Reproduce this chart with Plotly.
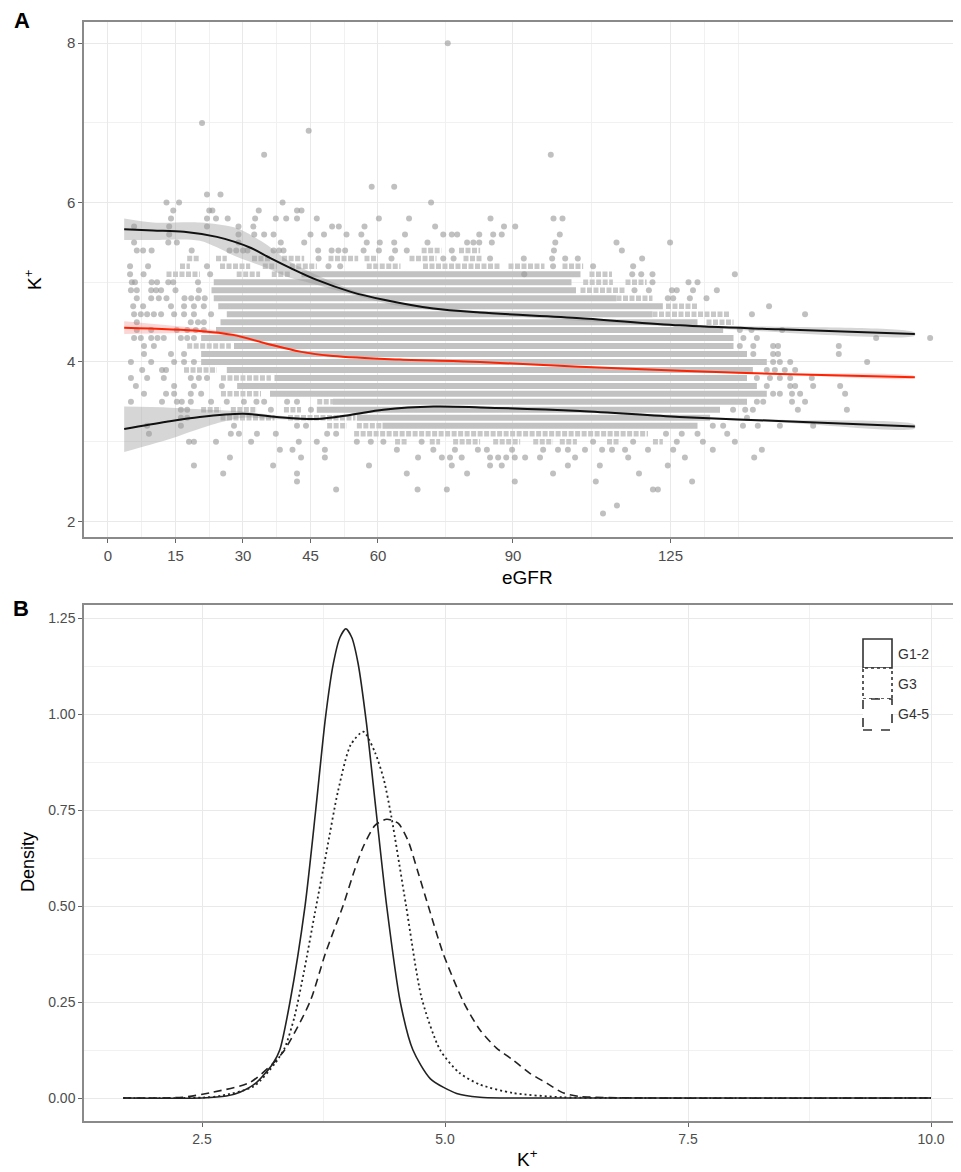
import plotly.graph_objects as go

# ---------------- Panel A data (eGFR vs K+) ----------------
K_rows = [8.0, 7.0, 6.9, 6.6, 6.2, 6.1, 6.0, 5.9, 5.8, 5.7, 5.6, 5.5, 5.4, 5.3, 5.2, 5.1,
          5.0, 4.9, 4.8, 4.7, 4.6, 4.5, 4.4, 4.3, 4.2, 4.1, 4.0, 3.9, 3.8, 3.7, 3.6, 3.5,
          3.4, 3.3, 3.2, 3.1, 3.0, 2.9, 2.8, 2.7, 2.6, 2.5, 2.4, 2.2, 2.1]

dense_lo = [None] * 15 + [43, 23.5, 23, 23.5, 24.5, 26.4, 25, 24, 20.7, 28, 20.7, 20.7, 26.4,
                          37, 28.7, 36, 50, 46.4, 55.3, 61] + [None] * 10
dense_hi = [None] * 15 + [105, 103, 104, 113, 123.3, 121, 131, 136.7, 139, 139, 142, 146.4,
                          143.3, 142, 144.2, 146.4, 142, 136, 133.8, 131] + [None] * 10

semi_spans = [
    [], [], [], [], [], [], [], [], [], [], [], [],
    [[69.7, 74.1], [78, 82.7]],                                                   # 5.4
    [[17.6, 20.2], [24, 26.4], [32, 36], [38.7, 43.6], [49, 55.6], [57, 60], [67, 73], [79, 83]],  # 5.3
    [[16, 18.2], [24.9, 31.6], [34.4, 37.5], [40.4, 46.4], [57.5, 65], [70, 87], [89, 97], [101, 105.6]],  # 5.2
    [[13, 20.4], [28.6, 33.8], [36.4, 40.4], [107, 112]],                          # 5.1
    [[105.6, 112.2], [115, 119.7]],                                                # 5.0
    [[105, 115]],                                                                  # 4.9
    [[113, 121]],                                                                  # 4.8
    [[124, 131]],                                                                  # 4.7
    [[121, 138]],                                                                  # 4.6
    [[133, 139]],                                                                  # 4.5
    [], [],                                                                        # 4.4, 4.3
    [[17.6, 27.3]],                                                                # 4.2
    [], [],                                                                        # 4.1, 4.0
    [[16.9, 24.2]],                                                                # 3.9
    [[25.1, 36.2]],                                                                # 3.8
    [],                                                                            # 3.7
    [[25.1, 34]],                                                                  # 3.6
    [[46.5, 50]],                                                                  # 3.5
    [[20.7, 25.1], [27.3, 33.1], [39.1, 42.9]],                                    # 3.4
    [[25, 37], [40, 55]],                                                          # 3.3
    [[48.7, 53.1], [55.3, 61]],                                                    # 3.2
    [[54.7, 120]],                                                                 # 3.1
    [[63.8, 66.4], [71.5, 73.8], [76.7, 82.7], [85.6, 91.6], [94.5, 98.9], [100.4, 104.2],
     [110.9, 113.8], [121.1, 123.3]],                                              # 3.0
    [], [], [], [], [], [], [], [],
]

row_points = [
    [75.5],                                                                        # 8.0
    [20.9],                                                                        # 7.0
    [44.6],                                                                        # 6.9
    [34.7, 98.4],                                                                  # 6.6
    [58.6, 63.6],                                                                  # 6.2
    [22, 25],                                                                      # 6.1
    [13, 15.8, 38.8, 71.8],                                                        # 6.0
    [14.5, 22.5, 23.2, 33.5, 42, 43],                                              # 5.9
    [14, 22, 24, 26.6, 32.7, 37.3, 39.6, 42, 46.4, 60.2, 66.9, 85, 99, 101],       # 5.8
    [5.8, 13.6, 22, 29, 32.3, 49.8, 51.3, 57, 72.7, 88, 90.5],                     # 5.7
    [13.6, 29, 32.5, 34.7, 36.8, 45, 48, 53, 56.3, 66, 74.5, 76.4, 77.6, 82.5, 85.6, 87.5, 100.4],  # 5.6
    [5.8, 13.4, 15.3, 29, 38.4, 43.6, 57.5, 60.4, 63.6, 71, 79.8, 81.2, 82.5, 85.3, 99.4, 113, 124.9],  # 5.5
    [6.4, 7.8, 9.7, 18.6, 27, 28.5, 30, 31, 36.8, 38, 39, 46.7, 49.7, 51.2, 52.7, 56.8, 60.2,
     63.8, 66.4, 76.4, 99.1, 114.2],                                               # 5.4
    [46.8, 63, 74.5, 76.8, 84.9, 92.4, 98.7, 101.6, 104.4, 118.7],                 # 5.3
    [4.9, 8.9, 22, 49, 51.6, 98.9, 107.8, 116.7],                                  # 5.2
    [4.9, 7.9, 22.7, 92.5, 116.5, 118.5, 121, 139.3],                              # 5.1
    [5.3, 6, 9.7, 10.9, 13.4, 14.5, 20, 121, 129, 131],                            # 5.0
    [5.1, 6.4, 9.6, 10.7, 11.8, 15, 20.2, 117, 120.2, 125.3, 126.4, 130, 135.3],   # 4.9
    [6.4, 9.6, 11.3, 13, 17, 18.5, 20, 21.5, 124.4, 125.6, 129.3, 133],            # 4.8
    [5.6, 7.8, 14, 16.9, 19.1, 21.3, 146.9],                                       # 4.7
    [5.8, 7.3, 8.7, 10.2, 11.8, 14.7, 16.9, 19.1, 22.9, 143.1, 154.9],             # 4.6
    [6.4, 18.4, 20, 21.3],                                                         # 4.5
    [6.4, 9.6, 15.3, 17.6, 19.5, 21.3, 140.4, 143, 149.8],                         # 4.4
    [5.8, 7.3, 9.6, 11, 12.4, 16.2, 17.6, 19.1, 141.2, 144.2, 170.7, 182.7],       # 4.3
    [8, 10.2, 140.4, 143.4, 147.8, 148.9, 162.4],                                  # 4.2
    [8, 14, 16.9, 143.4, 147.8, 148.9, 162.4],                                     # 4.1
    [5.1, 9.6, 14.7, 16.9, 19.1, 147.8, 149.3, 151.6, 168.7],                      # 4.0
    [7.6, 12, 12.9, 146.4, 148.2, 150.4, 152.7],                                   # 3.9
    [5.1, 8.7, 12.4, 18.4, 20.2, 22, 144.2, 147.1, 149.3, 151.6, 156.4],           # 3.8
    [6.2, 14.7, 19.1, 25.3, 146.4, 151.6, 152.7, 156.7, 162.7],                    # 3.7
    [8, 12.9, 14.7, 18.4, 20.7, 147.8, 149.3, 152, 153.8, 163.8],                  # 3.6
    [5.1, 12, 15.3, 16.4, 18.4, 22.9, 26.4, 30.2, 33, 34.7, 39.8, 42, 144.2, 145.6, 152, 154.9],  # 3.5
    [16.2, 17.6, 36.2, 45.1, 138.9, 141.6, 143.3, 153.3, 164.2],                   # 3.4
    [16.2, 17.6, 142],                                                             # 3.3
    [8.7, 16.2, 28, 42, 44, 134.4, 136.7, 141.1, 144.4, 149.3, 156.7],             # 3.2
    [9.1, 27.3, 29.1, 33.1, 37.3, 48.7, 50.7, 124, 127.5, 131, 137.6],             # 3.1
    [18, 19.1, 24, 31.8, 42.4, 46.4, 55.3, 58.4, 61.2, 69.7, 107.8, 116.7, 126.4, 132.2, 139.3],  # 3.0
    [38.2, 41, 48.2, 64.2, 72.3, 77.1, 82.2, 84.2, 89.8, 96.7, 100, 102.2, 106, 109.8, 112,
     114.9, 120, 125.6, 134.4, 145.3],                                             # 2.9
    [27.1, 42.9, 48.2, 68.9, 74.2, 76, 78.6, 84.9, 86.7, 88.5, 90.4, 92.7, 96, 103.8, 115.6,
     128.2, 143.6],                                                                # 2.8
    [19.1, 36.7, 58, 76.4, 84.9, 87.5, 102.2, 109.3, 124.4],                       # 2.7
    [25.6, 42, 66.4, 79.8, 98.9, 118],                                             # 2.6
    [42, 90.4, 108.4, 129.8],                                                      # 2.5
    [50.7, 68.8, 75.3, 121.1, 122.2],                                              # 2.4
    [113.1],                                                                       # 2.2
    [110],                                                                         # 2.1
]

# smoothed fits
up_x = [3.6, 10, 16.9, 24.2, 28, 31.8, 36.2, 40.7, 46.4, 54, 61.3, 72.3, 82.7, 105, 127, 149, 179.3]
up_y = [5.665, 5.65, 5.635, 5.57, 5.51, 5.43, 5.30, 5.175, 5.03, 4.88, 4.78, 4.67, 4.62, 4.55, 4.46, 4.41, 4.35]
up_ci_x = [3.6, 10, 20.4, 28.6, 35.3, 39.8, 46.4, 54, 65, 90, 130, 179.3]
up_ci_hi = [5.80, 5.75, 5.75, 5.68, 5.47, 5.28, 5.09, 4.91, 4.74, 4.605, 4.465, 4.37]
up_ci_lo = [5.53, 5.53, 5.52, 5.32, 5.18, 5.07, 4.97, 4.85, 4.70, 4.575, 4.435, 4.33]

mid_x = [3.6, 20.4, 27.8, 35.3, 42.7, 50, 64.9, 82.7, 104.9, 127.1, 149.3, 179.3]
mid_y = [4.43, 4.39, 4.34, 4.23, 4.13, 4.075, 4.03, 4.0, 3.94, 3.89, 3.85, 3.81]
mid_ci_hi = [4.51, 4.42, 4.36, 4.245, 4.14, 4.085, 4.038, 4.007, 3.947, 3.897, 3.858, 3.822]
mid_ci_lo = [4.35, 4.36, 4.32, 4.215, 4.12, 4.065, 4.022, 3.993, 3.933, 3.883, 3.842, 3.798]

low_x = [3.6, 13, 20.4, 30, 37.5, 46.4, 53.8, 61.2, 72.3, 82.7, 104.9, 127, 149, 179.3]
low_y = [3.16, 3.25, 3.31, 3.35, 3.31, 3.285, 3.335, 3.40, 3.44, 3.43, 3.385, 3.31, 3.26, 3.19]
low_ci_x = [3.6, 13, 22.9, 30, 37.5, 46.4, 53.8, 61.2, 72.3, 82.7, 104.9, 127, 149, 179.3]
low_ci_hi = [3.44, 3.43, 3.40, 3.38, 3.33, 3.30, 3.35, 3.412, 3.452, 3.442, 3.397, 3.323, 3.275, 3.215]
low_ci_lo = [2.87, 3.02, 3.21, 3.30, 3.28, 3.27, 3.32, 3.388, 3.428, 3.418, 3.373, 3.297, 3.245, 3.165]

egfr_ticks = [0, 15, 30, 45, 60, 90, 125]

# ---------------- Panel B data (density of K+) ----------------
groups = ["G1-2", "G3", "G4-5"]
g12_k = [1.69, 2.5, 2.75, 2.89, 3.06, 3.23, 3.30, 3.405, 3.56, 3.67, 3.77, 3.85, 3.92, 3.98, 4.04,
         4.105, 4.19, 4.29, 4.40, 4.54, 4.67, 4.85, 5.12, 5.36, 5.6, 10.0]
g12_d = [0, 0, 0.005, 0.015, 0.04, 0.09, 0.125, 0.25, 0.5, 0.75, 0.99, 1.13, 1.20, 1.222, 1.20,
         1.133, 0.98, 0.75, 0.5, 0.25, 0.125, 0.05, 0.012, 0.002, 0, 0]
g3_k = [1.69, 2.5, 2.7, 3.03, 3.25, 3.35, 3.45, 3.55, 3.66, 3.78, 3.90, 4.03, 4.16, 4.28, 4.37,
        4.45, 4.60, 4.76, 4.95, 5.15, 5.36, 5.70, 6.21, 7.0, 10.0]
g3_d = [0, 0.001, 0.006, 0.03, 0.09, 0.13, 0.21, 0.33, 0.48, 0.64, 0.80, 0.92, 0.954, 0.90, 0.83,
        0.73, 0.50, 0.26, 0.125, 0.065, 0.035, 0.013, 0.002, 0, 0]
g45_k = [1.69, 2.3, 2.61, 2.99, 3.23, 3.35, 3.61, 3.77, 3.95, 4.07, 4.16, 4.28, 4.40, 4.52, 4.62,
         4.72, 4.84, 4.98, 5.19, 5.36, 5.53, 5.70, 5.87, 6.05, 6.21, 6.39, 7.08, 10.0]
g45_d = [0, 0.002, 0.015, 0.04, 0.09, 0.125, 0.25, 0.377, 0.5, 0.594, 0.655, 0.71, 0.726, 0.715, 0.67,
         0.59, 0.49, 0.377, 0.25, 0.177, 0.13, 0.099, 0.065, 0.038, 0.014, 0.004, 0, 0]

# ---------------- Layout geometry ----------------
# The page body has an 8px default margin: the figure starts at window pixel (8, 8).
OFF = 8
W, H = 961 - OFF, 1172 - OFF
ML, MR, MT, MB = 84 - OFF, 0, 22 - OFF, H - (1121 - OFF)
PW, PH = W - ML - MR, H - MT - MB


def px_x(px):
    return (px - OFF - ML) / PW


def px_y(py):
    return (H - MB - (py - OFF)) / PH


FONT = "Liberation Sans, Arial, Helvetica, sans-serif"
TICK_C = "#4d4d4d"
GRID = "#e9e9e9"
GRID_MINOR = "#f1f1f1"
BORDER = "#8a8a8a"

fig = go.Figure()

# dense bands
dx, dy = [], []
for k, lo, hi in zip(K_rows, dense_lo, dense_hi):
    if lo is not None:
        dx += [lo, hi, None]
        dy += [k, k, None]
fig.add_trace(go.Scatter(x=dx, y=dy, mode="lines", line=dict(color="#c2c2c2", width=6),
                         xaxis="x", yaxis="y", hoverinfo="skip"))
# semi-dense clusters
sx, sy = [], []
for k, spans in zip(K_rows, semi_spans):
    for lo, hi in spans:
        sx += [lo, hi, None]
        sy += [k, k, None]
fig.add_trace(go.Scatter(x=sx, y=sy, mode="lines",
                         line=dict(color="#c8c8c8", width=5.5, dash="5px,1.5px"),
                         xaxis="x", yaxis="y", hoverinfo="skip"))
# individual points
px_, py_ = [], []
for k, pts in zip(K_rows, row_points):
    for p in pts:
        px_.append(p)
        py_.append(k)
fig.add_trace(go.Scatter(x=px_, y=py_, mode="markers",
                         marker=dict(color="rgba(150,150,150,0.6)", size=6, line=dict(width=0)),
                         xaxis="x", yaxis="y", hoverinfo="skip"))

# CI ribbons
for cx, lo, hi, col in [(up_ci_x, up_ci_lo, up_ci_hi, "rgba(153,153,153,0.4)"),
                        (mid_x, mid_ci_lo, mid_ci_hi, "rgba(240,90,90,0.25)"),
                        (low_ci_x, low_ci_lo, low_ci_hi, "rgba(153,153,153,0.4)")]:
    fig.add_trace(go.Scatter(x=cx + cx[::-1], y=hi + lo[::-1], mode="lines", fill="toself",
                             fillcolor=col, line=dict(width=0, shape="spline", smoothing=0.8),
                             xaxis="x", yaxis="y", hoverinfo="skip"))

# fitted lines
for lx, ly, col in [(up_x, up_y, "#111111"), (mid_x, mid_y, "#ff2200"), (low_x, low_y, "#111111")]:
    fig.add_trace(go.Scatter(x=lx, y=ly, mode="lines",
                             line=dict(color=col, width=2, shape="spline", smoothing=0.9),
                             xaxis="x", yaxis="y", hoverinfo="skip"))

# density curves
for kx, dd, dash, w in [(g45_k, g45_d, "8px,5px", 1.6), (g3_k, g3_d, "2px,3px", 1.8),
                        (g12_k, g12_d, "solid", 1.6)]:
    fig.add_trace(go.Scatter(x=kx, y=dd, mode="lines",
                             line=dict(color="#222222", width=w, dash=dash, shape="spline", smoothing=0.7),
                             xaxis="x2", yaxis="y2", hoverinfo="skip"))

axis_common = dict(showline=True, linecolor=BORDER, linewidth=1.5, zeroline=False,
                   ticks="outside", ticklen=4, tickcolor="#666", tickwidth=1, automargin=False,
                   showgrid=True, gridcolor=GRID, gridwidth=1,
                   tickfont=dict(family=FONT, size=15, color=TICK_C))
tf_b = dict(family=FONT, size=14, color=TICK_C)

# right edge of the panels is cut by the picture edge (window x = 961)
xa_right = (961 - 108) / 4.5
xb_right = 2.5 + (961 - 202) / 97.2

fig.update_layout(
    width=W, height=H, margin=dict(l=ML, r=MR, t=MT, b=MB, autoexpand=False),
    paper_bgcolor="white", plot_bgcolor="white", showlegend=False,
    font=dict(family=FONT),
    xaxis=dict(domain=[0, 1], anchor="y", range=[-5.33, xa_right], tickmode="array", tickvals=egfr_ticks,
               mirror=True,
               minor=dict(tickmode="array", tickvals=[7.5, 22.5, 37.5, 52.5, 75, 107.5, 132.5, 140],
                          showgrid=True, gridcolor=GRID_MINOR, ticks=""),
               **axis_common),
    yaxis=dict(domain=[px_y(537), 1], anchor="x", range=[1.804, 8.266], tickmode="array",
               tickvals=[2, 4, 6, 8], mirror=False,
               minor=dict(tickmode="array", tickvals=[3, 5, 7], showgrid=True, gridcolor=GRID_MINOR, ticks=""),
               **axis_common),
    xaxis2=dict(domain=[0, 1], anchor="y2", range=[1.286, xb_right], tickmode="array",
                tickvals=[2.5, 5.0, 7.5, 10.0], ticktext=["2.5", "5.0", "7.5", "10.0"], mirror=True,
                minor=dict(tickmode="array", tickvals=[1.25, 3.75, 6.25, 8.75], showgrid=True,
                           gridcolor=GRID_MINOR, ticks=""),
                **{**axis_common, "tickfont": tf_b}),
    yaxis2=dict(domain=[0, px_y(605)], anchor="x2", range=[-0.0599, 1.284], tickmode="array",
                tickvals=[0, 0.25, 0.5, 0.75, 1.0, 1.25], mirror=False,
                ticktext=["0.00", "0.25", "0.50", "0.75", "1.00", "1.25"],
                minor=dict(tickmode="array", tickvals=[0.125, 0.375, 0.625, 0.875, 1.125], showgrid=True,
                           gridcolor=GRID_MINOR, ticks=""),
                **{**axis_common, "tickfont": tf_b}),
)

ann = []


def add_text(text, x, y, size, bold=False, angle=0, xanchor="center", color="black"):
    ann.append(dict(text=("<b>%s</b>" % text) if bold else text, x=px_x(x), y=px_y(y),
                    xref="paper", yref="paper", showarrow=False, textangle=angle,
                    xanchor=xanchor, yanchor="middle",
                    font=dict(family=FONT, size=size, color=color)))


add_text("A", 22, 21, 22, bold=True)
add_text("B", 21, 608, 22, bold=True)
add_text("K<sup>+</sup>", 33, 280, 19, angle=-90)
add_text("eGFR", 527, 577, 19)
add_text("Density", 28, 862, 18, angle=-90)
add_text("K<sup>+</sup>", 527, 1158, 19)

# legend for panel B
legend_boxes = [(639, 668, "solid"), (668, 699, "dot"), (699, 730, "dash")]
shapes = []
for (y0, y1, dash), name in zip(legend_boxes, groups):
    shapes.append(dict(type="rect", xref="paper", yref="paper", x0=px_x(863), x1=px_x(892),
                       y0=px_y(y1), y1=px_y(y0), line=dict(color="#333333", width=1.6, dash=dash),
                       fillcolor="white", layer="above"))
    add_text(name, 896, (y0 + y1) / 2, 14, xanchor="left", color="#333333")

fig.update_layout(annotations=ann, shapes=shapes)
fig.write_html("out.html")
